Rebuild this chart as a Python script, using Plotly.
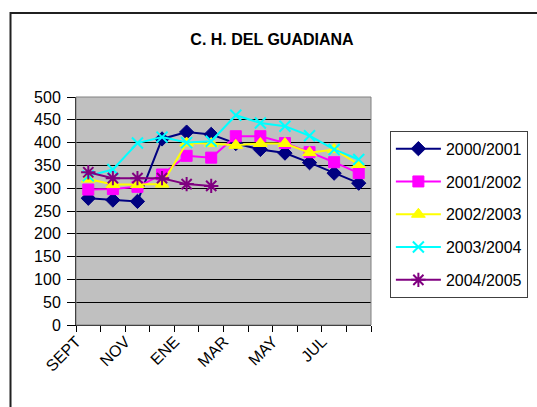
import plotly.graph_objects as go

months = ['SEPT', 'OCT', 'NOV', 'DIC', 'ENE', 'FEB', 'MAR', 'ABR', 'MAY', 'JUN', 'JUL', 'AGO']
tick_labels = ['SEPT', '', 'NOV', '', 'ENE', '', 'MAR', '', 'MAY', '', 'JUL', '']

s2000 = [278, 274, 271, 408, 423, 418, 398, 385, 377, 356, 333, 311]
s2001 = [297, 298, 303, 330, 371, 367, 414, 414, 399, 379, 357, 333]
s2002 = [320, 308, 308, 309, 399, 398, 394, 398, 398, 378, 385, 352]
s2003 = [327, 341, 399, 412, 400, 403, 460, 443, 436, 415, 385, 363]
s2004 = [335, 322, 322, 322, 309, 305]

series = [
    ('2000/2001', s2000, '#000080', 'diamond', 11, 1),
    ('2001/2002', s2001, '#FF00FF', 'square', 11, 1),
    ('2002/2003', s2002, '#FFFF00', 'triangle-up', 12, 1),
    ('2003/2004', s2003, '#00FFFF', 'x-thin', 11, 2),
    ('2004/2005', s2004, '#800080', 'asterisk', 12, 2),
]

fig = go.Figure()
for i, (name, vals, color, sym, size, lw) in enumerate(series):
    fig.add_trace(go.Scatter(
        x=months[:len(vals)], y=vals, name=name, mode='lines+markers',
        line=dict(color=color, width=2),
        marker=dict(symbol=sym, size=size, color=color,
                    line=dict(color=color, width=lw)),
        legendgroup='g%d' % i,
    ))

FONT = 'Liberation Sans, Arial, sans-serif'
fig.update_layout(
    width=537, height=407,
    margin=dict(l=76, r=166, t=97, b=82, autoexpand=False),
    paper_bgcolor='white', plot_bgcolor='#C0C0C0',
    font=dict(family=FONT, size=16, color='black'),
    title=dict(text='<b>C. H. DEL GUADIANA</b>', x=0.5065, xref='container',
               xanchor='center', y=1 - 39 / 407, yref='container', yanchor='middle',
               font=dict(family=FONT, size=16, color='black')),
    showlegend=True,
    legend=dict(x=1.064, y=0.852, xanchor='left', yanchor='top',
                bgcolor='white', bordercolor='#404040', borderwidth=1,
                font=dict(family=FONT, size=16, color='black'),
                tracegroupgap=9, itemwidth=45),
    xaxis=dict(type='category', categoryorder='array', categoryarray=months,
               tickmode='array', tickvals=months, ticktext=tick_labels,
               tickson='boundaries', ticks='outside', ticklen=6, tickcolor='black',
               tickangle=-45, ticklabelshift=-12, showgrid=False, showline=True,
               linecolor='black', linewidth=1, zeroline=False, range=[-0.5, 11.5],
               automargin=False,
               tickfont=dict(family=FONT, size=16, color='black')),
    yaxis=dict(range=[0, 500], dtick=50, tick0=0, ticks='outside', ticklen=8,
               ticklabelstandoff=3, automargin=False,
               tickcolor='black', showgrid=True, gridcolor='black', gridwidth=1,
               showline=True, linecolor='black', linewidth=1, zeroline=False,
               tickfont=dict(family=FONT, size=16, color='black')),
    shapes=[
        dict(type='rect', xref='paper', yref='paper', x0=0, x1=1, y0=0, y1=1,
             line=dict(color='#808080', width=1), layer='above'),
        dict(type='rect', xref='paper', yref='paper', x0=-0.222, x1=1.7,
             y0=-0.6, y1=(325 - 13) / 228, line=dict(color='#202020', width=2),
             layer='below'),
    ],
)

fig.write_html('out.html', config={'displayModeBar': False},
               post_script="document.body.style.margin='0';")
